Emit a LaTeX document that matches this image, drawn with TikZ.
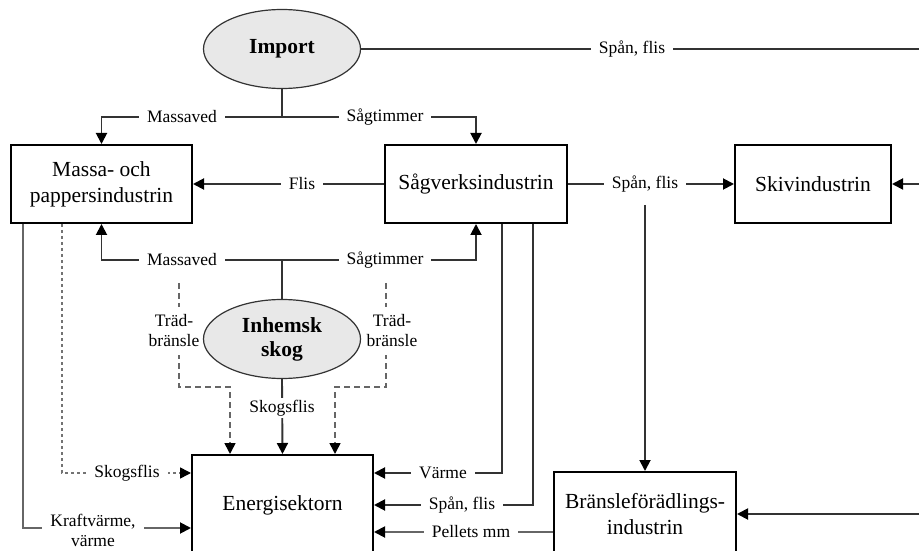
\documentclass[tikz,border=0pt]{standalone}
\usepackage{fontspec}
\setmainfont{Liberation Serif}
\usetikzlibrary{arrows.meta,shapes.geometric,calc}
\begin{document}
\begin{tikzpicture}[x=1bp,y=-1bp,
  boxn/.style={draw=black, line width=2bp, fill=white, align=center, inner sep=0pt,
    font=\fontsize{21.5bp}{26bp}\selectfont},
  elln/.style={ellipse, draw=black!80, line width=1.2bp, fill=black!9, align=center, inner sep=0pt,
    minimum width=157bp, minimum height=79bp, font=\bfseries\fontsize{21.5bp}{24bp}\selectfont},
  lab/.style={fill=white, inner xsep=8bp, inner ysep=2bp, align=center,
    font=\fontsize{17.5bp}{20bp}\selectfont},
  plain/.style={draw=black!80, line width=1.9bp},
  arr/.style={plain, -{Triangle[length=11bp,width=11bp,color=black]}},
  dashline/.style={draw=black!60, line width=1.6bp, dash pattern=on 6bp off 4bp},
  dotline/.style={draw=black!55, line width=1.6bp, dash pattern=on 3bp off 3bp},
  grayline/.style={draw=black!60}
]
\useasboundingbox (0,0) rectangle (919,551);
\clip (0,0) rectangle (919,551);

% nodes
\node[elln] (imp) at (282,49) {Import};
\node[elln] (inh) at (282,339) {Inhemsk\\skog};
\node[boxn, minimum width=181bp, minimum height=78bp] (massa) at (101.5,184) {Massa- och\\pappersindustrin};
\node[boxn, minimum width=182bp, minimum height=78bp] (sag) at (476,184) {Sågverksindustrin};
\node[boxn, minimum width=156bp, minimum height=78bp] (skiv) at (813,184) {Skivindustrin};
\node[boxn, minimum width=181bp, minimum height=100bp] (energi) at (282.5,505) {Energisektorn};
\node[boxn, minimum width=182bp, minimum height=84bp] (brans) at (645,514) {Bränsleförädlings-\\industrin};

% helper coordinates
\coordinate (jtop) at (282,117);
\coordinate (jbot) at (282,260);
\coordinate (redge1) at (919,49);
\coordinate (redge2) at (919,184);
\coordinate (redge3) at (919,514);
\coordinate (sfdrop) at (645,205);
\coordinate (tl) at (179,283);
\coordinate (tlb) at (179,387);
\coordinate (xtl) at (230,0);
\coordinate (tr) at (386,283);
\coordinate (trb) at (386,387);
\coordinate (xtr) at (335,0);
\coordinate (xd) at (62,0);
\coordinate (xk) at (23,0);
\coordinate (xv) at (502,0);
\coordinate (xs) at (533,0);
\coordinate (ya) at (0,473);
\coordinate (yb) at (0,505);
\coordinate (yc) at (0,532);
\coordinate (yk) at (0,528);

% connectors
\draw[plain] (imp.east) -- (redge1);
\draw[plain] (imp.south) -- (jtop);
\draw[arr] (jtop) -| (massa.north);
\draw[arr] (jtop) -| (sag.north);
\draw[arr] (sag.west) -- (massa.east);
\draw[arr] (sag.east) -- (skiv.west);
\draw[arr] (sfdrop) -- (brans.north);
\draw[arr] (redge2) -- (skiv.east);
\draw[plain] (inh.north) -- (jbot);
\draw[arr] (jbot) -| (massa.south);
\draw[arr] (jbot) -| (sag.south);
\draw[arr] (inh.south) -- (energi.north);
\draw[arr,dashline] (tl) -- (tlb) -| (energi.north -| xtl);
\draw[arr,dashline] (tr) -- (trb) -| (energi.north -| xtr);
\draw[arr,dotline] (massa.south -| xd) |- (energi.west |- ya);
\draw[arr,grayline] (massa.south -| xk) |- (energi.west |- yk);
\draw[arr] (sag.south -| xv) |- (energi.east |- ya);
\draw[arr] (sag.south -| xs) |- (energi.east |- yb);
\draw[arr,grayline] (brans.west |- yc) -- (energi.east |- yc);
\draw[arr] (redge3) -- (brans.east);

% labels
\node[lab] (l1) at (632,49) {Spån, flis};
\node[lab] (l2) at (182,117) {Massaved};
\node[lab] (l3) at (385,117) {Sågtimmer};
\node[lab] (l4) at (302,184) {Flis};
\node[lab] (l5) at (645,184) {Spån, flis};
\node[lab] (l6) at (182,260) {Massaved};
\node[lab] (l7) at (385,260) {Sågtimmer};
\node[lab, inner ysep=8bp, inner xsep=2bp] (l8) at (174,331) {Träd-\\bränsle};
\node[lab, inner ysep=8bp, inner xsep=2bp] (l9) at (392,331) {Träd-\\bränsle};
\node[lab] (l10) at (282,408) {Skogsflis};
\node[lab] (l11) at (127,473) {Skogsflis};
\node[lab] (l12) at (93,530) {Kraftvärme,\\värme};
\node[lab] (l13) at (443,473) {Värme};
\node[lab] (l14) at (462,505) {Spån, flis};
\node[lab] (l15) at (471,532) {Pellets mm};
\end{tikzpicture}
\end{document}
